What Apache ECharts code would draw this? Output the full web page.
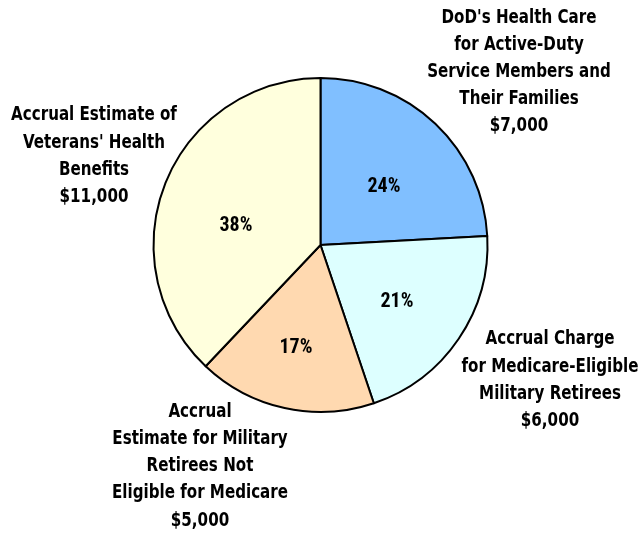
<!DOCTYPE html>
<html>
<head>
<meta charset="utf-8">
<script src="https://cdn.jsdelivr.net/npm/echarts@6/dist/echarts.min.js"></script>
<style>
html,body{margin:0;padding:0;background:#fff;}
#main{width:642px;height:535px;}
</style>
</head>
<body>
<div id="main"></div>
<script>
const categories = [
  "DoD's Health Care\nfor Active-Duty\nService Members and\nTheir Families",
  "Accrual Charge\nfor Medicare-Eligible\nMilitary Retirees",
  "Accrual\nEstimate for Military\nRetirees Not\nEligible for Medicare",
  "Accrual Estimate of\nVeterans' Health\nBenefits"
];
const values = [7000, 6000, 5000, 11000];
const colors = ['#80BFFF', '#DDFFFF', '#FFD9B0', '#FFFFDD'];
const labelCenters = [[519, 71.7], [550, 380], [200, 466], [94, 156]];
const pctCenters = [[384, 187], [397, 302], [296, 348], [236, 226]];

const FONT = '"DejaVu Sans Condensed", "DejaVu Sans", sans-serif';

const data = categories.map((c, i) => ({
  name: c,
  value: values[i],
  itemStyle: { color: colors[i] }
}));

const outsideLabels = categories.map((c, i) => ({
  type: 'text',
  x: labelCenters[i][0],
  y: labelCenters[i][1],
  scaleX: 0.84,
  silent: true,
  style: {
    text: c + '\n$' + values[i].toLocaleString('en-US'),
    font: 'bold 20px ' + FONT,
    lineHeight: 27.2,
    fill: '#000',
    align: 'center',
    verticalAlign: 'middle'
  }
}));

const chart = echarts.init(document.getElementById('main'), null, { renderer: 'canvas' });
chart.setOption({
  backgroundColor: '#ffffff',
  animation: false,
  graphic: outsideLabels,
  series: [
    {
      type: 'pie',
      center: [320.5, 245],
      radius: [0, 167],
      startAngle: 90,
      clockwise: true,
      data: data,
      itemStyle: { borderColor: '#000', borderWidth: 2 },
      emphasis: { disabled: true },
      label: {
        show: true,
        position: 'inside',
        formatter: p => Math.round(p.percent) + '%',
        fontFamily: '"Roboto Condensed", Roboto, sans-serif',
        fontWeight: 'bold',
        fontSize: 20,
        color: '#000'
      },
      labelLine: { show: false },
      labelLayout: function (params) {
        const c = pctCenters[params.dataIndex];
        return { x: c[0], y: c[1], align: 'center', verticalAlign: 'middle' };
      }
    }
  ]
});
</script>
</body>
</html>
